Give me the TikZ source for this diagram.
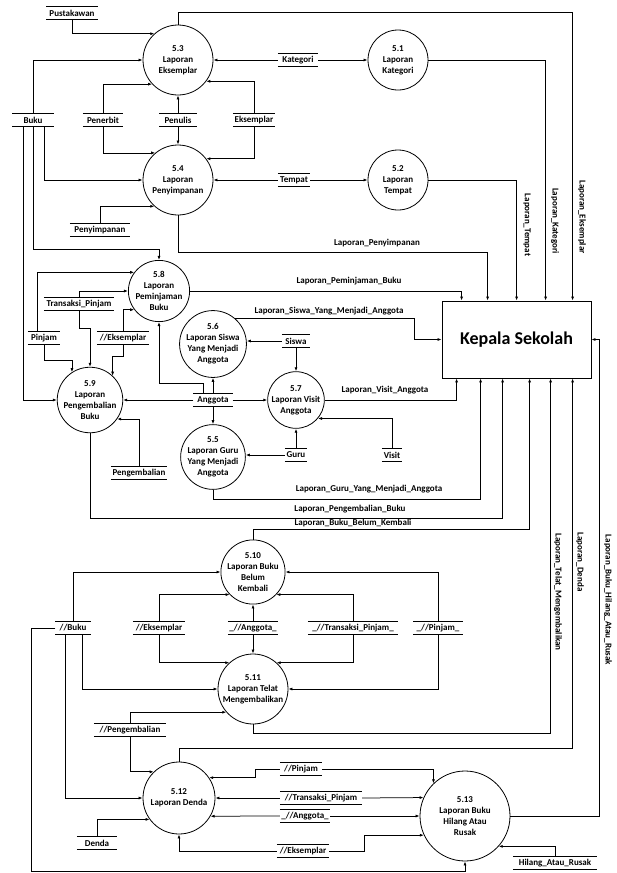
\documentclass[tikz,border=0pt]{standalone}
\usepackage{fontspec}
\setmainfont{Carlito}
\usetikzlibrary{arrows.meta,calc}
\begin{document}
\begin{tikzpicture}[x=1pt,y=-1pt,
  every node/.style={font=\fontsize{9}{11}\selectfont\bfseries},
  proc/.style={circle,draw,line width=0.8pt,inner sep=0pt,align=center},
  store/.style={inner sep=0pt,minimum height=13pt},
  storeline/.style={line width=0.8pt},
  flow/.style={line width=0.75pt,-{Latex[length=4pt,width=3pt]}},
  lbl/.style={inner sep=0pt},
  vlbl/.style={inner sep=0pt,rotate=-90},
]
\useasboundingbox (0,0) rectangle (616,873);

% processes
\node[proc,minimum size=70pt] (p53) at (178,60) {5.3\\Laporan\\Eksemplar};
\node[proc,minimum size=60pt] (p51) at (398,60) {5.1\\Laporan\\Kategori};
\node[proc,minimum size=70pt] (p54) at (178,180) {5.4\\Laporan\\Penyimpanan};
\node[proc,minimum size=60pt] (p52) at (398,180) {5.2\\Laporan\\Tempat};
\node[proc,minimum size=60pt] (p58) at (159,291) {5.8\\Laporan\\Peminjaman\\Buku};
\node[proc,minimum size=58pt] (p56) at (213,344) {5.6\\Laporan Siswa\\Yang Menjadi\\Anggota};
\node[proc,minimum size=56pt] (p57) at (296,400) {5.7\\Laporan Visit\\Anggota};
\node[proc,minimum size=62pt] (p59) at (90,400) {5.9\\Laporan\\Pengembalian\\Buku};
\node[proc,minimum size=60pt] (p55) at (213,457) {5.5\\Laporan Guru\\Yang Menjadi\\Anggota};
\node[proc,minimum size=60pt] (p510) at (253,572) {5.10\\Laporan Buku\\Belum\\Kembali};
\node[proc,minimum size=70pt] (p511) at (253,689) {5.11\\Laporan Telat\\Mengembalikan};
\node[proc,minimum size=72pt] (p512) at (179,798) {5.12\\Laporan Denda};
\node[proc,minimum size=90pt] (p513) at (465,816) {5.13\\Laporan Buku\\Hilang Atau\\Rusak};

% external entity
\node[draw,line width=0.8pt,minimum width=149pt,minimum height=77pt,
      font=\fontsize{18}{22}\selectfont\bfseries] (ks) at (516.5,339.5) {Kepala Sekolah};

% data stores
\node[store,minimum width=51pt] (spust) at (72,13) {Pustakawan};
\node[store,minimum width=41pt] (sbuku) at (33,120) {Buku};
\node[store,minimum width=40pt] (spener) at (103,120) {Penerbit};
\node[store,minimum width=37pt] (spenul) at (178,120) {Penulis};
\node[store,minimum width=42pt] (seks) at (254,120) {Eksemplar};
\node[store,minimum width=40pt] (skat) at (298,60) {Kategori};
\node[store,minimum width=32pt] (stem) at (294,180) {Tempat};
\node[store,minimum width=60pt] (spenyim) at (100,230) {Penyimpanan};
\node[store,minimum width=70pt] (strans) at (79,304) {Transaksi\_Pinjam};
\node[store,minimum width=32pt] (spinj) at (44,338) {Pinjam};
\node[store,minimum width=52pt] (seksb) at (123,338) {//Eksemplar};
\node[store,minimum width=39pt] (sang) at (213,400) {Anggota};
\node[store,minimum width=28pt] (ssiswa) at (296,341) {Siswa};
\node[store,minimum width=22pt] (sguru) at (296,455) {Guru};
\node[store,minimum width=20pt] (svisit) at (392,455) {Visit};
\node[store,minimum width=56pt] (speng) at (139,473) {Pengembalian};
\node[store,minimum width=35pt] (sbukub) at (73,628) {//Buku};
\node[store,minimum width=52pt] (seksc) at (159,628) {//Eksemplar};
\node[store,minimum width=50pt] (sangb) at (253,628) {\_//Anggota\_};
\node[store,minimum width=90pt] (stransb) at (353,628) {\_//Transaksi\_Pinjam\_};
\node[store,minimum width=49pt] (spinjb) at (438,628) {\_//Pinjam\_};
\node[store,minimum width=72pt] (spengb) at (130,730) {//Pengembalian};
\node[store,minimum width=40pt] (sdenda) at (97,843) {Denda};
\node[store,minimum width=42pt] (spinjc) at (301,769) {//Pinjam};
\node[store,minimum width=82pt] (stransc) at (321,798) {//Transaksi\_Pinjam};
\node[store,minimum width=50pt] (sangc) at (305,816) {\_//Anggota\_};
\node[store,minimum width=52pt] (seksd) at (303,851) {//Eksemplar};
\node[store,minimum width=84pt] (shilang) at (555,863) {Hilang\_Atau\_Rusak};

\foreach \s in {spust,sbuku,spener,spenul,seks,skat,stem,spenyim,strans,spinj,
  seksb,sang,ssiswa,sguru,svisit,speng,sbukub,seksc,sangb,stransb,spinjb,
  spengb,sdenda,spinjc,stransc,sangc,seksd,shilang}
  \draw[storeline] (\s.north west) -- (\s.north east) (\s.south west) -- (\s.south east);

% flows of the upper block
\draw[flow] (spust.south) |- (p53.132);
\draw[flow] (p53.north) -- ++(0,-12) -| ([xshift=131pt]ks.north west);
\draw[flow] (skat.west) -- (p53.east);
\draw[flow] (skat.east) -- (p51.west);
\draw[flow] (p51.east) -| ([xshift=104pt]ks.north west);
\draw[flow] (sbuku.north) |- (p53.west);
\draw[flow] (spener.north) |- (p53.223);
\draw[flow] (spener.south) |- (p54.130);
\draw[flow] (spenul.north) -- (p53.south);
\draw[flow] (spenul.south) -- (p54.north);
\draw[flow] (seks.north) |- (p53.-37);
\draw[flow] (seks.south) |- (p54.37);
\draw[flow] (stem.west) -- (p54.east);
\draw[flow] (stem.east) -- (p52.west);
\draw[flow] (p52.east) -| ([xshift=75pt]ks.north west);
\draw[flow] ([xshift=11pt]sbuku.south) |- (p54.west);
\draw[flow] (spenyim.north) |- (p54.228);
\draw[flow] (p54.south) -- ++(0,37) -| ([xshift=46pt]ks.north west);
\draw[flow] (sbuku.south) |- ($(p58.north)+(0,-11)$) -- (p58.north);
\draw[flow] ([xshift=-10pt]sbuku.south) |- (p59.west);

% flows around 5.5 - 5.9
\draw[flow] (p58.east) -| ([xshift=20pt]ks.north west);
\draw[flow] ([xshift=-7pt]spinj.north) |- (p58.143);
\draw[flow] (spinj.south) -- ++(0,16) -| (p59.123);
\draw[flow] (strans.north) |- (p58.west);
\draw[flow] (strans.south) -- ++(0,18) -| (p59.north);
\draw[flow] (seksb.north) |- (p58.217);
\draw[flow] (seksb.south) -- ++(0,12) -| (p59.47);
\draw[flow] (sang.west) -- (p59.east);
\draw[flow] (sang.east) -- (p57.west);
\draw[flow] (sang.north) -- (p56.south);
\draw[flow] (sang.south) -- (p55.north);
\draw[flow] ([xshift=-10pt]sang.north) -- ++(0,-10) -| (p58.south);
\draw[flow] (ssiswa.west) -- (ssiswa.west -| p56.east);
\draw[flow] (ssiswa.south) -- (p57.north);
\draw[flow] (p56.50) -| ($(ks.west)+(-27,0)$) -- (ks.west);
\draw[flow] (p57.east) -| ([xshift=15pt]ks.south west);
\draw[flow] (svisit.north) |- (p57.-40);
\draw[flow] (sguru.north) -- (p57.south);
\draw[flow] (sguru.west) -- (sguru.west -| p55.east);
\draw[flow] (p55.south) -- ++(0,10) -| ([xshift=39pt]ks.south west);
\draw[flow] (speng.north) |- (p59.-35);
\draw[flow] (p59.south) -- ++(0,85) -| ([xshift=61pt]ks.south west);

% flows of the lower block
\draw[flow] (p510.north) -- ++(0,-10) -| ([xshift=88pt]ks.south west);
\draw[flow] (p511.south) -- ++(0,9) -| ([xshift=109pt]ks.south west);
\draw[flow] (p512.north) -- ++(0,-13) -| ([xshift=131pt]ks.south west);
\draw[flow] (p513.east) -| ($(ks.east)+(8,0)$) -- (ks.east);
\draw[flow] (sbukub.north) |- (p510.west);
\draw[flow] (sbukub.west) -- ++(-24,0) |- ($(p513.south)+(0,10)$) -- (p513.south);
\draw[flow] ([xshift=9pt]sbukub.south) |- (p511.west);
\draw[flow] ([xshift=-8pt]sbukub.south) |- (p512.west);
\draw[flow] (seksc.north) |- (p510.224);
\draw[flow] (seksc.south) |- (p511.132);
\draw[flow] (sangb.north) -- (p510.south);
\draw[flow] (sangb.south) -- (p511.north);
\draw[flow] (stransb.north) |- (p510.-44);
\draw[flow] (stransb.south) |- (p511.48);
\draw[flow] (spinjb.north) |- (p510.east);
\draw[flow] (spinjb.south) |- (p511.east);
\draw[flow] (spengb.north) |- (p511.221);
\draw[flow] (spengb.south) |- (p512.134);
\draw[flow] (sdenda.north) |- (p512.216);
\draw[flow] (spinjc.west) -- ++(-24,0) |- (p512.34);
\draw[flow] (spinjc.east) -| (p513.134);
\draw[flow] (stransc.west) -- (p512.east);
\draw[flow] (stransc.east) -- (p513.156);
\draw[flow] (sangc.west) -- (p512.-30);
\draw[flow] (sangc.east) -- (p513.west);
\draw[flow] (seksd.west) -| (p512.south);
\draw[flow] (seksd.east) -- ++(35,0) |- (p513.205);
\draw[flow] (shilang.north) |- (p513.-42);

% flow labels
\node[lbl] (lpenyim) at (377,243) {Laporan\_Penyimpanan};
\node[lbl] (lpinjam) at (349,281) {Laporan\_Peminjaman\_Buku};
\node[lbl] (lsiswa) at (329,311) {Laporan\_Siswa\_Yang\_Menjadi\_Anggota};
\node[lbl] (lvisit) at (385,390) {Laporan\_Visit\_Anggota};
\node[lbl] (lguru) at (369,489) {Laporan\_Guru\_Yang\_Menjadi\_Anggota};
\node[lbl] (lkembali) at (350,509) {Laporan\_Pengembalian\_Buku};
\node[lbl] (lbelum) at (353,523) {Laporan\_Buku\_Belum\_Kembali};
\node[vlbl] (ltempat) at (527,225) {Laporan\_Tempat};
\node[vlbl] (lkat) at (555,221) {Laporan\_Kategori};
\node[vlbl] (leks) at (582,217) {Laporan\_Eksemplar};
\node[vlbl] (ltelat) at (558,592) {Laporan\_Telat\_Mengembalikan};
\node[vlbl] (ldenda) at (580,562) {Laporan\_Denda};
\node[vlbl] (lhilang) at (608,600) {Laporan\_Buku\_Hilang\_Atau\_Rusak};
\end{tikzpicture}
\end{document}
